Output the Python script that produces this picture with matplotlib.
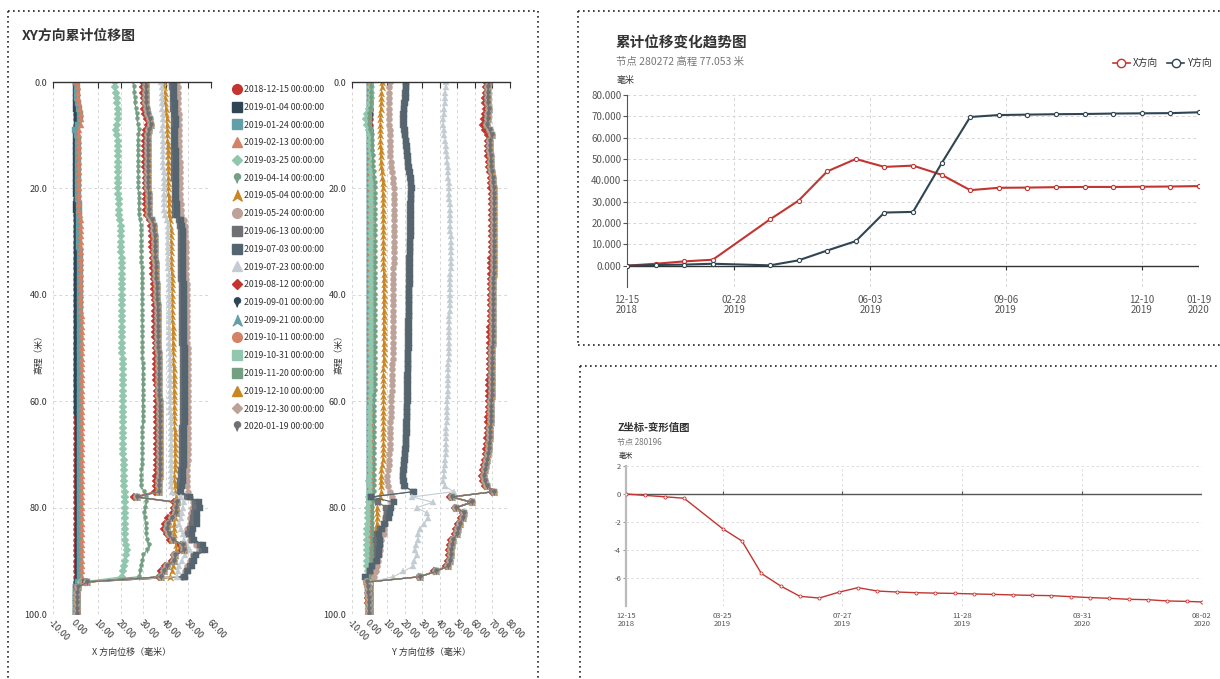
import numpy as np
import matplotlib
matplotlib.use("Agg")
import matplotlib.pyplot as plt
from matplotlib.lines import Line2D
from matplotlib.ticker import FormatStrFormatter
from datetime import datetime

plt.rcParams['font.family'] = ['Noto Sans CJK SC', 'DejaVu Sans']
plt.rcParams['axes.unicode_minus'] = False

# ---------------- inclinometer profiles (1 m nodes, 0-100 m) ----------------
depth = np.arange(0, 101)

survey_dates = [
    "2018-12-15", "2019-01-04", "2019-01-24", "2019-02-13", "2019-03-25",
    "2019-04-14", "2019-05-04", "2019-05-24", "2019-06-13", "2019-07-03",
    "2019-07-23", "2019-08-12", "2019-09-01", "2019-09-21", "2019-10-11",
    "2019-10-31", "2019-11-20", "2019-12-10", "2019-12-30", "2020-01-19",
]

# X direction cumulative displacement (mm)
x_1215 = [0.0] * 101
x_0104 = [
    0.1, 0.2, 0.2, 0.3, 0.3, 0.4, 0.6, 0.7, 0.5, 0.2,
    0.3, 0.3, 0.4, 0.3, 0.3, 0.4, 0.4, 0.3, 0.4, 0.4,
    0.4, 0.4, 0.5, 0.4, 0.4, 0.5, 0.7, 0.7, 0.7, 0.7,
    0.7, 0.7, 0.7, 0.8, 0.7, 0.7, 0.8, 0.8, 0.7, 0.8,
    0.8, 0.8, 0.8, 0.8, 0.8, 0.8, 0.8, 0.8, 0.8, 0.8,
    0.8, 0.8, 0.8, 0.8, 0.8, 0.8, 0.8, 0.8, 0.8, 0.8,
    0.8, 0.8, 0.8, 0.9, 0.9, 0.9, 0.9, 0.9, 0.9, 0.9,
    0.9, 0.9, 0.9, 0.9, 0.9, 0.9, 0.9, 0.9, 1.0, 0.9,
    0.9, 0.9, 0.9, 0.9, 0.9, 0.9, 0.9, 0.9, 0.9, 0.9,
    0.9, 0.9, 0.9, 0.9, 0.6, 0.2, 0.1, 0.1, 0.1, 0.0,
    0.0]
x_0124 = [
    0.3, 0.5, 0.6, 0.8, 1.0, 1.4, 1.9, 2.0, 1.2, -0.4,
    0.8, 1.0, 1.1, 1.1, 1.1, 1.0, 1.1, 1.1, 1.2, 1.2,
    1.2, 1.2, 1.2, 1.3, 1.3, 1.3, 1.6, 1.7, 1.7, 1.7,
    1.7, 1.7, 1.8, 1.8, 1.8, 1.8, 1.8, 1.8, 1.9, 1.9,
    1.9, 1.9, 1.9, 1.9, 1.9, 1.9, 1.9, 1.9, 1.9, 1.9,
    1.9, 1.9, 1.9, 1.9, 1.9, 1.9, 1.9, 2.0, 2.0, 2.0,
    2.0, 2.0, 2.0, 2.0, 2.0, 2.0, 2.0, 2.0, 2.0, 2.0,
    2.0, 2.0, 2.0, 2.0, 2.0, 2.0, 2.0, 2.0, 2.1, 2.0,
    2.0, 2.0, 2.0, 2.0, 2.0, 2.0, 2.0, 2.0, 2.0, 2.0,
    2.0, 2.0, 2.0, 2.0, 1.2, 0.4, 0.3, 0.3, 0.2, 0.2,
    0.1]
x_0213 = [
    0.6, 0.9, 1.0, 1.2, 1.5, 1.9, 2.4, 2.6, 2.2, 1.4,
    1.3, 1.4, 1.5, 1.5, 1.5, 1.5, 1.5, 1.6, 1.6, 1.6,
    1.6, 1.6, 1.7, 1.7, 1.7, 1.8, 2.3, 2.4, 2.4, 2.4,
    2.4, 2.5, 2.5, 2.5, 2.5, 2.5, 2.5, 2.6, 2.6, 2.6,
    2.6, 2.6, 2.6, 2.6, 2.7, 2.7, 2.7, 2.7, 2.7, 2.7,
    2.7, 2.7, 2.7, 2.7, 2.7, 2.8, 2.8, 2.8, 2.8, 2.8,
    2.8, 2.8, 2.8, 2.8, 2.8, 2.8, 2.8, 2.8, 2.8, 2.8,
    2.8, 2.8, 2.8, 2.8, 2.8, 2.8, 2.8, 2.8, 2.9, 2.8,
    2.8, 2.8, 2.8, 2.8, 2.8, 2.8, 2.8, 2.8, 2.8, 2.8,
    2.8, 2.8, 2.8, 2.9, 2.0, 0.8, 0.6, 0.5, 0.4, 0.3,
    0.3]
x_0325 = [
    17.3, 17.6, 17.9, 18.2, 18.4, 18.6, 18.8, 18.7, 18.3, 17.9,
    18.5, 18.7, 18.8, 18.8, 18.8, 18.9, 18.9, 18.9, 19.0, 19.0,
    19.0, 19.0, 19.1, 19.1, 19.2, 19.3, 19.8, 20.1, 20.2, 20.2,
    20.3, 20.3, 20.3, 20.4, 20.4, 20.4, 20.5, 20.5, 20.5, 20.5,
    20.6, 20.6, 20.6, 20.6, 20.6, 20.7, 20.7, 20.7, 20.7, 20.7,
    20.7, 20.7, 20.8, 20.8, 20.8, 20.8, 20.8, 20.9, 20.9, 20.9,
    20.9, 21.0, 21.0, 21.0, 21.0, 21.1, 21.1, 21.1, 21.1, 21.2,
    21.2, 21.3, 21.3, 21.4, 21.5, 21.5, 21.6, 21.7, 21.7, 21.8,
    21.8, 21.8, 21.9, 21.9, 22.0, 22.0, 22.1, 22.5, 22.7, 22.3,
    21.8, 21.4, 21.0, 20.6, 2.4, 0.6, 0.5, 0.4, 0.4, 0.3,
    0.3]
x_0414 = [
    25.6, 25.8, 26.0, 26.2, 26.4, 26.7, 27.0, 27.4, 27.7, 28.0,
    27.8, 27.6, 27.5, 27.5, 27.6, 27.6, 27.7, 27.7, 27.8, 27.8,
    27.8, 27.9, 27.9, 28.0, 28.0, 28.1, 28.6, 28.9, 29.0, 29.0,
    29.1, 29.1, 29.2, 29.2, 29.2, 29.3, 29.3, 29.3, 29.4, 29.4,
    29.4, 29.4, 29.5, 29.5, 29.5, 29.5, 29.6, 29.6, 29.6, 29.6,
    29.6, 29.6, 29.6, 29.7, 29.7, 29.7, 29.7, 29.7, 29.7, 29.7,
    29.7, 29.7, 29.7, 29.7, 29.7, 29.6, 29.6, 29.6, 29.6, 29.6,
    29.5, 29.4, 29.3, 29.1, 29.1, 29.0, 28.9, 30.5, 31.3, 31.0,
    30.6, 30.5, 30.7, 31.0, 31.2, 31.4, 31.8, 32.6, 31.5, 30.0,
    29.3, 28.8, 28.4, 28.1, 2.6, 0.7, 0.6, 0.5, 0.5, 0.4,
    0.4]
x_0504 = [
    39.0, 39.2, 39.4, 39.6, 39.7, 39.9, 40.1, 40.3, 40.5, 40.7,
    40.7, 40.7, 40.8, 40.8, 40.9, 40.9, 41.0, 41.0, 41.0, 41.1,
    41.1, 41.1, 41.2, 41.2, 41.3, 41.4, 41.8, 42.0, 42.1, 42.1,
    42.2, 42.2, 42.3, 42.3, 42.4, 42.4, 42.5, 42.5, 42.6, 42.6,
    42.7, 42.7, 42.8, 42.8, 42.9, 42.9, 43.0, 43.0, 43.1, 43.1,
    43.2, 43.2, 43.3, 43.3, 43.4, 43.4, 43.5, 43.5, 43.6, 43.6,
    43.7, 43.7, 43.7, 43.8, 43.8, 43.8, 43.9, 43.9, 43.9, 44.0,
    44.0, 44.0, 44.0, 43.9, 43.8, 43.7, 43.9, 44.2, 44.6, 45.0,
    44.8, 44.5, 44.0, 43.6, 43.5, 43.6, 43.8, 44.3, 44.6, 43.9,
    43.5, 43.0, 42.5, 41.8, 3.0, 0.8, 0.7, 0.6, 0.5, 0.5,
    0.4]
x_0524 = [
    45.0, 45.2, 45.3, 45.4, 45.5, 45.6, 45.8, 46.0, 45.9, 45.7,
    45.8, 45.9, 45.9, 46.0, 46.0, 46.1, 46.1, 46.2, 46.2, 46.3,
    46.3, 46.4, 46.4, 46.5, 46.5, 46.6, 48.0, 48.6, 48.7, 48.7,
    48.8, 48.8, 48.9, 48.9, 49.0, 49.0, 49.1, 49.1, 49.2, 49.2,
    49.3, 49.3, 49.3, 49.4, 49.4, 49.4, 49.5, 49.5, 49.5, 49.5,
    49.6, 49.6, 49.6, 49.6, 49.6, 49.6, 49.6, 49.6, 49.6, 49.6,
    49.6, 49.6, 49.6, 49.7, 49.7, 49.7, 49.7, 49.7, 49.7, 49.7,
    49.7, 49.6, 49.5, 49.4, 49.3, 49.2, 49.4, 50.0, 50.5, 52.0,
    51.5, 51.0, 50.8, 50.5, 49.5, 49.0, 50.5, 53.5, 54.8, 52.0,
    50.5, 49.5, 48.5, 47.0, 3.5, 0.8, 0.7, 0.6, 0.6, 0.5,
    0.5]
x_0613 = [
    42.8, 42.9, 43.0, 43.1, 43.2, 43.3, 43.5, 43.8, 43.6, 43.4,
    43.4, 43.5, 43.5, 43.6, 43.6, 43.7, 43.7, 43.8, 43.8, 43.9,
    43.9, 44.0, 44.0, 44.1, 44.1, 44.2, 45.8, 46.4, 46.5, 46.5,
    46.6, 46.6, 46.7, 46.7, 46.8, 46.8, 46.9, 46.9, 47.0, 47.0,
    47.1, 47.1, 47.1, 47.2, 47.2, 47.2, 47.3, 47.3, 47.3, 47.3,
    47.4, 47.4, 47.4, 47.4, 47.4, 47.4, 47.4, 47.4, 47.4, 47.4,
    47.4, 47.4, 47.4, 47.4, 47.4, 47.3, 47.3, 47.3, 47.3, 47.3,
    47.2, 47.1, 47.0, 46.8, 46.6, 46.4, 46.2, 46.3, 49.5, 53.0,
    53.0, 52.5, 52.0, 51.5, 50.5, 50.0, 51.5, 55.0, 56.0, 52.5,
    51.5, 50.5, 49.5, 48.0, 4.0, 0.9, 0.8, 0.7, 0.6, 0.6,
    0.5]
x_0703 = [
    43.5, 43.6, 43.7, 43.8, 43.9, 44.0, 44.2, 44.5, 44.3, 44.1,
    44.1, 44.2, 44.2, 44.3, 44.3, 44.4, 44.4, 44.5, 44.5, 44.6,
    44.6, 44.7, 44.7, 44.8, 44.8, 44.9, 46.5, 47.3, 47.4, 47.4,
    47.5, 47.5, 47.6, 47.6, 47.7, 47.7, 47.8, 47.8, 47.9, 47.9,
    48.0, 48.0, 48.0, 48.1, 48.1, 48.1, 48.2, 48.2, 48.2, 48.2,
    48.3, 48.3, 48.3, 48.3, 48.3, 48.3, 48.3, 48.3, 48.3, 48.3,
    48.3, 48.3, 48.3, 48.3, 48.3, 48.2, 48.2, 48.2, 48.2, 48.2,
    48.2, 48.1, 48.0, 47.8, 47.6, 47.4, 47.0, 46.9, 50.5, 54.5,
    55.0, 54.0, 54.0, 53.8, 52.0, 51.5, 52.5, 56.5, 57.5, 53.5,
    52.5, 51.5, 50.0, 48.5, 4.5, 1.0, 0.8, 0.7, 0.6, 0.6,
    0.5]
x_0723 = [
    38.0, 38.1, 38.2, 38.3, 38.4, 38.5, 38.7, 38.9, 38.7, 38.5,
    38.6, 38.7, 38.7, 38.8, 38.8, 38.9, 38.9, 39.0, 39.0, 39.1,
    39.1, 39.2, 39.2, 39.3, 39.3, 39.4, 40.4, 40.8, 40.9, 40.9,
    41.0, 41.0, 41.0, 41.1, 41.1, 41.1, 41.2, 41.2, 41.2, 41.3,
    41.3, 41.3, 41.4, 41.4, 41.4, 41.5, 41.5, 41.5, 41.6, 41.6,
    41.6, 41.7, 41.7, 41.7, 41.8, 41.8, 41.8, 41.9, 41.9, 41.9,
    42.0, 42.0, 42.0, 42.1, 42.1, 42.1, 42.2, 42.2, 42.2, 42.3,
    42.3, 42.3, 42.3, 42.2, 42.2, 42.1, 42.3, 42.6, 46.5, 48.0,
    47.5, 47.0, 46.5, 46.0, 46.5, 47.4, 48.0, 49.5, 50.5, 48.5,
    47.0, 46.0, 45.5, 45.0, 4.0, 0.9, 0.7, 0.6, 0.6, 0.5,
    0.5]
x_0812 = [
    29.8, 29.9, 30.0, 30.1, 30.2, 30.4, 30.8, 31.6, 32.2, 31.4,
    30.8, 30.7, 30.7, 30.8, 30.8, 30.9, 30.9, 31.0, 31.0, 31.1,
    31.1, 31.2, 31.2, 31.3, 31.3, 31.5, 32.8, 33.6, 33.7, 33.8,
    33.9, 34.0, 34.1, 34.2, 34.3, 34.4, 34.5, 34.6, 34.7, 34.8,
    34.9, 35.0, 35.1, 35.1, 35.2, 35.3, 35.3, 35.4, 35.4, 35.5,
    35.5, 35.6, 35.6, 35.7, 35.7, 35.8, 35.8, 35.9, 35.9, 35.9,
    36.0, 36.0, 36.0, 36.1, 36.1, 36.1, 36.1, 36.2, 36.2, 36.2,
    36.2, 36.2, 36.1, 36.0, 35.8, 35.6, 35.5, 35.4, 26.0, 43.5,
    43.5, 43.0, 41.0, 39.5, 39.0, 40.5, 42.0, 46.5, 47.0, 43.5,
    42.5, 39.5, 38.0, 37.0, 4.8, 0.8, 0.7, 0.6, 0.6, 0.5,
    0.5]
# 2019-09-01 .. 2020-01-19 sit on top of each other
x_late = [
    31.0, 31.1, 31.2, 31.3, 31.4, 31.6, 32.0, 32.8, 33.4, 32.6,
    32.0, 31.9, 31.9, 32.0, 32.0, 32.1, 32.1, 32.2, 32.2, 32.3,
    32.3, 32.4, 32.4, 32.5, 32.5, 32.7, 34.0, 34.8, 34.9, 35.0,
    35.1, 35.2, 35.3, 35.4, 35.5, 35.6, 35.7, 35.8, 35.9, 36.0,
    36.1, 36.2, 36.3, 36.3, 36.4, 36.5, 36.5, 36.6, 36.6, 36.7,
    36.7, 36.8, 36.8, 36.9, 36.9, 37.0, 37.0, 37.1, 37.1, 37.1,
    37.2, 37.2, 37.2, 37.3, 37.3, 37.3, 37.3, 37.4, 37.4, 37.4,
    37.4, 37.4, 37.3, 37.3, 37.2, 37.1, 37.0, 37.0, 27.0, 44.8,
    44.5, 44.3, 42.5, 40.8, 40.6, 41.5, 43.0, 47.5, 48.0, 44.2,
    43.5, 40.5, 39.0, 37.8, 5.2, 0.9, 0.8, 0.7, 0.6, 0.6,
    0.5]

# Y direction cumulative displacement (mm)
y_1215 = [0.0] * 101
y_0104 = [
    0.1, 0.1, 0.2, 0.2, 0.2, 0.1, 0.0, -0.2, -0.1, 0.1,
    0.2, 0.2, 0.2, 0.2, 0.2, 0.2, 0.2, 0.3, 0.3, 0.3,
    0.3, 0.3, 0.3, 0.3, 0.3, 0.3, 0.3, 0.3, 0.3, 0.3,
    0.3, 0.3, 0.3, 0.3, 0.3, 0.3, 0.3, 0.3, 0.3, 0.3,
    0.3, 0.3, 0.3, 0.3, 0.3, 0.3, 0.3, 0.3, 0.3, 0.3,
    0.3, 0.3, 0.3, 0.3, 0.3, 0.3, 0.3, 0.3, 0.3, 0.3,
    0.3, 0.3, 0.3, 0.3, 0.3, 0.3, 0.3, 0.3, 0.3, 0.3,
    0.3, 0.3, 0.3, 0.3, 0.3, 0.3, 0.3, 0.3, 0.2, 0.2,
    0.2, 0.2, 0.2, 0.2, 0.2, 0.2, 0.2, 0.2, 0.2, 0.2,
    0.2, 0.2, 0.2, 0.1, 0.0, 0.0, 0.0, 0.0, 0.0, 0.0,
    0.0]
y_0124 = [
    0.2, 0.3, 0.3, 0.4, 0.3, 0.1, -0.3, -0.5, -0.3, 0.1,
    0.4, 0.4, 0.4, 0.5, 0.5, 0.5, 0.5, 0.5, 0.5, 0.5,
    0.5, 0.5, 0.5, 0.5, 0.5, 0.5, 0.5, 0.5, 0.5, 0.5,
    0.5, 0.5, 0.5, 0.5, 0.5, 0.5, 0.5, 0.5, 0.5, 0.5,
    0.5, 0.5, 0.5, 0.5, 0.5, 0.5, 0.5, 0.5, 0.5, 0.5,
    0.5, 0.5, 0.5, 0.5, 0.5, 0.5, 0.5, 0.5, 0.5, 0.5,
    0.5, 0.5, 0.5, 0.5, 0.5, 0.5, 0.5, 0.5, 0.5, 0.5,
    0.5, 0.5, 0.5, 0.5, 0.5, 0.5, 0.5, 0.5, 0.3, 0.3,
    0.3, 0.3, 0.3, 0.3, 0.3, 0.3, 0.3, 0.3, 0.3, 0.3,
    0.3, 0.3, 0.2, 0.1, 0.0, 0.0, 0.0, 0.0, 0.0, 0.0,
    0.0]
y_0213 = [
    0.3, 0.4, 0.5, 0.5, 0.4, 0.2, -0.2, -0.5, -0.3, 0.2,
    0.6, 0.7, 0.7, 0.8, 0.8, 0.8, 0.8, 0.8, 0.8, 0.8,
    0.8, 0.8, 0.8, 0.8, 0.8, 0.8, 0.8, 0.8, 0.8, 0.8,
    0.8, 0.8, 0.8, 0.8, 0.8, 0.8, 0.8, 0.8, 0.8, 0.8,
    0.8, 0.8, 0.8, 0.8, 0.8, 0.9, 0.9, 0.9, 0.9, 0.9,
    0.9, 0.9, 0.9, 0.9, 0.9, 0.9, 0.9, 0.9, 0.9, 0.9,
    0.9, 0.9, 0.9, 0.9, 0.9, 0.9, 0.9, 0.9, 0.9, 0.9,
    0.9, 0.9, 0.9, 0.9, 0.9, 0.9, 0.9, 0.9, 0.5, 0.5,
    0.5, 0.5, 0.5, 0.5, 0.5, 0.5, 0.5, 0.5, 0.5, 0.5,
    0.5, 0.4, 0.3, 0.2, 0.0, 0.0, 0.0, 0.0, 0.0, 0.0,
    0.0]
y_0325 = [
    0.6, 0.7, 0.7, 0.6, 0.3, -0.4, -1.2, -1.8, -1.5, -0.5,
    0.2, 0.4, 0.5, 0.6, 0.7, 0.8, 0.9, 1.0, 1.0, 1.0,
    1.0, 1.0, 1.0, 1.0, 1.0, 0.9, 0.9, 0.9, 0.9, 0.9,
    0.9, 0.9, 0.9, 0.9, 0.8, 0.8, 0.8, 0.8, 0.8, 0.8,
    0.8, 0.8, 0.8, 0.7, 0.7, 0.7, 0.7, 0.7, 0.7, 0.7,
    0.7, 0.7, 0.6, 0.6, 0.6, 0.6, 0.6, 0.6, 0.6, 0.6,
    0.6, 0.5, 0.5, 0.5, 0.5, 0.5, 0.5, 0.5, 0.5, 0.5,
    0.4, 0.4, 0.3, 0.2, 0.0, -0.2, 0.0, 0.2, -0.5, -0.6,
    -0.8, -0.9, -1.0, -1.1, -1.2, -1.3, -1.4, -1.5, -1.5, -1.4,
    -1.3, -1.2, -1.0, -0.8, -0.3, -0.2, -0.2, -0.1, -0.1, -0.1,
    -0.1]
y_0414 = [
    0.9, 1.0, 1.1, 1.0, 0.8, 0.4, -0.1, -0.4, -0.2, 0.5,
    1.2, 1.4, 1.5, 1.6, 1.7, 1.8, 2.0, 2.4, 2.7, 2.9,
    3.0, 3.0, 3.1, 3.1, 3.1, 3.1, 3.1, 3.1, 3.1, 3.1,
    3.1, 3.1, 3.1, 3.0, 3.0, 3.0, 3.0, 3.0, 3.0, 3.0,
    3.0, 3.0, 3.0, 3.0, 3.0, 3.0, 2.9, 2.9, 2.9, 2.9,
    2.9, 2.9, 2.9, 2.9, 2.9, 2.9, 2.9, 2.9, 2.9, 2.8,
    2.8, 2.8, 2.8, 2.8, 2.8, 2.8, 2.8, 2.8, 2.8, 2.8,
    2.7, 2.6, 2.5, 2.4, 2.3, 2.3, 2.4, 2.5, 1.5, 1.8,
    1.6, 1.5, 1.4, 1.4, 1.3, 1.3, 1.2, 1.2, 1.1, 1.1,
    1.0, 1.0, 0.9, 0.8, 0.1, 0.0, 0.0, 0.0, 0.0, 0.0,
    0.0]
y_0504 = [
    7.0, 6.9, 6.8, 6.7, 6.5, 6.3, 6.1, 6.0, 6.0, 6.1,
    6.1, 6.2, 6.2, 6.3, 6.3, 6.4, 6.6, 7.0, 7.3, 7.4,
    7.5, 7.5, 7.6, 7.6, 7.6, 7.7, 7.7, 7.7, 7.8, 7.8,
    7.8, 7.8, 7.9, 7.9, 7.9, 7.9, 8.0, 8.0, 8.0, 8.0,
    8.0, 8.0, 8.0, 8.0, 8.0, 8.0, 8.0, 8.0, 8.0, 8.0,
    8.0, 8.0, 8.0, 8.0, 7.9, 7.9, 7.9, 7.9, 7.9, 7.9,
    7.9, 7.9, 7.8, 7.8, 7.8, 7.8, 7.8, 7.8, 7.8, 7.8,
    7.7, 7.5, 7.2, 6.8, 6.5, 6.3, 6.4, 6.8, 6.0, 4.5,
    4.2, 4.0, 4.5, 4.0, 3.6, 3.5, 3.4, 3.5, 3.8, 3.5,
    3.2, 3.0, 2.6, 2.0, 0.2, 0.0, 0.0, 0.0, 0.0, 0.0,
    0.0]
y_0524 = [
    11.4, 11.3, 11.2, 11.1, 11.0, 11.0, 10.9, 11.0, 11.2, 11.4,
    11.5, 11.6, 11.7, 11.8, 11.9, 12.0, 12.4, 12.9, 13.3, 13.6,
    13.7, 13.8, 13.8, 13.8, 13.8, 13.8, 13.8, 13.8, 13.7, 13.7,
    13.7, 13.7, 13.7, 13.7, 13.7, 13.6, 13.6, 13.6, 13.6, 13.6,
    13.6, 13.6, 13.5, 13.5, 13.5, 13.5, 13.5, 13.4, 13.4, 13.4,
    13.3, 13.2, 13.1, 13.0, 12.9, 12.8, 12.7, 12.6, 12.5, 12.4,
    12.3, 12.2, 12.1, 12.0, 11.9, 11.8, 11.7, 11.6, 11.5, 11.4,
    11.2, 11.0, 10.8, 10.5, 10.2, 10.0, 10.5, 11.5, 12.5, 12.0,
    11.0, 9.5, 9.0, 8.8, 8.5, 8.0, 6.5, 6.0, 5.8, 5.5,
    5.0, 4.5, 3.5, 2.5, 0.3, 0.1, 0.1, 0.0, 0.0, 0.0,
    0.0]
y_0613 = [
    20.6, 20.5, 20.4, 20.2, 19.9, 19.5, 19.2, 19.1, 19.3, 19.7,
    20.1, 20.5, 20.9, 21.2, 21.5, 21.7, 22.1, 22.7, 23.2, 23.5,
    23.6, 23.5, 23.4, 23.3, 23.2, 23.2, 23.3, 23.3, 23.2, 23.1,
    23.0, 22.9, 22.8, 22.7, 22.7, 22.6, 22.6, 22.5, 22.5, 22.4,
    22.4, 22.3, 22.3, 22.2, 22.2, 22.1, 22.1, 22.0, 22.0, 21.9,
    21.9, 21.8, 21.8, 21.7, 21.7, 21.6, 21.6, 21.5, 21.5, 21.4,
    21.4, 21.3, 21.2, 21.1, 21.0, 20.9, 20.8, 20.7, 20.5, 20.3,
    20.1, 19.9, 19.5, 19.2, 19.0, 19.1, 19.7, 24.9, 1.0, 5.0,
    9.5, 9.8, 9.5, 8.0, 6.0, 4.0, 3.5, 4.0, 4.5, 4.0,
    3.5, 1.5, 0.5, -2.0, -1.5, -0.6, -0.5, -0.5, -0.4, -0.4,
    -0.4]
y_0703 = [
    20.9, 20.8, 20.7, 20.5, 20.2, 19.8, 19.5, 19.4, 19.6, 20.0,
    20.4, 20.8, 21.2, 21.5, 21.8, 22.0, 22.4, 23.0, 23.5, 23.8,
    23.9, 23.8, 23.7, 23.6, 23.5, 23.5, 23.6, 23.6, 23.5, 23.4,
    23.3, 23.2, 23.1, 23.0, 23.0, 22.9, 22.9, 22.8, 22.8, 22.7,
    22.7, 22.6, 22.6, 22.5, 22.5, 22.4, 22.4, 22.3, 22.3, 22.2,
    22.2, 22.1, 22.1, 22.0, 22.0, 21.9, 21.9, 21.8, 21.8, 21.7,
    21.7, 21.6, 21.5, 21.4, 21.3, 21.2, 21.1, 21.0, 20.8, 20.6,
    20.4, 20.2, 19.8, 19.5, 19.3, 19.4, 20.0, 25.2, 1.0, 13.7,
    12.0, 11.5, 11.0, 9.0, 7.0, 5.5, 6.0, 6.0, 5.5, 5.5,
    4.5, 1.3, 0.5, -2.5, -1.5, -0.6, -0.5, -0.5, -0.4, -0.4,
    -0.4]
y_0723 = [
    43.5, 43.3, 43.1, 42.9, 42.7, 42.5, 42.3, 42.1, 42.0, 42.2,
    42.6, 43.0, 43.3, 43.6, 43.9, 44.2, 44.4, 44.6, 44.8, 45.0,
    45.2, 45.4, 45.5, 45.6, 45.7, 45.8, 45.9, 46.0, 46.1, 46.2,
    46.2, 46.3, 46.3, 46.3, 46.2, 46.2, 46.1, 46.0, 45.9, 45.8,
    45.7, 45.7, 45.6, 45.6, 45.5, 45.5, 45.4, 45.4, 45.3, 45.3,
    45.2, 45.1, 45.0, 44.9, 44.9, 44.8, 44.7, 44.6, 44.5, 44.4,
    44.3, 44.2, 44.1, 44.0, 43.9, 43.8, 43.8, 43.7, 43.6, 43.5,
    43.4, 43.2, 43.0, 42.6, 42.2, 42.0, 43.0, 48.0, 24.3, 36.2,
    26.8, 32.5, 33.4, 31.0, 28.5, 27.8, 27.5, 26.5, 26.0, 26.8,
    25.5, 24.9, 19.2, 13.6, 0.0, -0.5, -0.5, -0.4, -0.4, -0.4,
    -0.4]
y_0812 = [
    66.5, 66.3, 66.1, 65.9, 66.0, 66.2, 66.0, 65.4, 64.5, 65.8,
    67.5, 67.3, 67.2, 67.4, 67.6, 67.8, 68.0, 68.4, 68.9, 69.2,
    69.4, 69.5, 69.6, 69.6, 69.6, 69.6, 69.7, 69.7, 69.6, 69.6,
    69.6, 69.5, 69.5, 69.4, 69.4, 69.3, 69.3, 69.2, 69.2, 69.1,
    69.1, 69.1, 69.0, 69.0, 68.9, 68.9, 68.8, 68.8, 68.7, 68.7,
    68.6, 68.6, 68.5, 68.5, 68.4, 68.4, 68.3, 68.3, 68.2, 68.1,
    68.0, 67.9, 67.8, 67.7, 67.6, 67.4, 67.2, 67.0, 66.8, 66.6,
    66.2, 65.6, 65.0, 64.4, 63.8, 64.8, 65.8, 69.7, 45.8, 57.5,
    48.5, 53.0, 52.0, 50.5, 49.5, 48.8, 46.5, 46.0, 45.5, 45.2,
    44.8, 43.8, 36.8, 28.0, -1.6, -0.9, -0.8, -0.7, -0.7, -0.6,
    -0.6]
y_late = [
    67.8, 67.6, 67.4, 67.2, 67.5, 67.8, 67.6, 67.2, 66.8, 68.5,
    69.5, 68.8, 68.5, 68.7, 68.9, 69.1, 69.3, 69.8, 70.3, 70.6,
    70.8, 70.9, 71.0, 71.0, 71.0, 71.0, 71.1, 71.1, 71.0, 71.0,
    71.0, 70.9, 70.9, 70.8, 70.8, 70.7, 70.7, 70.6, 70.6, 70.5,
    70.5, 70.5, 70.4, 70.4, 70.3, 70.3, 70.2, 70.2, 70.1, 70.1,
    70.0, 70.0, 69.9, 69.9, 69.8, 69.8, 69.7, 69.7, 69.6, 69.5,
    69.4, 69.3, 69.2, 69.1, 69.0, 68.8, 68.6, 68.4, 68.2, 68.0,
    67.6, 67.0, 66.4, 65.8, 65.0, 66.0, 67.0, 71.0, 46.9, 58.5,
    49.5, 54.0, 53.0, 51.5, 50.5, 49.8, 47.5, 47.0, 46.5, 46.2,
    45.8, 44.8, 37.8, 28.7, -1.5, -0.8, -0.7, -0.6, -0.6, -0.5,
    -0.5]

x_profiles = [x_1215, x_0104, x_0124, x_0213, x_0325, x_0414, x_0504, x_0524,
              x_0613, x_0703, x_0723, x_0812] + [x_late] * 8
y_profiles = [y_1215, y_0104, y_0124, y_0213, y_0325, y_0414, y_0504, y_0524,
              y_0613, y_0703, y_0723, y_0812] + [y_late] * 8

# ---------------- node 280272 trend (mm) ----------------
trend_x = [0.0, 0.9, 2.0, 2.8, 21.7, 30.5, 44.2, 50.0, 46.3, 46.9,
           42.6, 35.4, 36.5, 36.6, 36.8, 36.9, 36.9, 37.0, 37.1, 37.3]
trend_y = [0.0, 0.3, 0.5, 0.9, 0.15, 2.5, 7.1, 11.5, 24.9, 25.2,
           48.0, 69.7, 70.6, 70.8, 71.0, 71.1, 71.3, 71.4, 71.5, 71.9]
trend_ticks = ["2018-12-15", "2019-02-28", "2019-06-03", "2019-09-06",
               "2019-12-10", "2020-01-19"]

# ---------------- node 280196 settlement (mm) ----------------
z_dates = [
    "2018-12-15", "2019-01-04", "2019-01-24", "2019-02-13", "2019-03-25",
    "2019-04-14", "2019-05-04", "2019-05-24", "2019-06-13", "2019-07-03",
    "2019-07-23", "2019-08-12", "2019-09-01", "2019-09-21", "2019-10-11",
    "2019-10-31", "2019-11-20", "2019-12-10", "2019-12-30", "2020-01-19",
    "2020-02-08", "2020-02-28", "2020-03-19", "2020-04-08", "2020-04-28",
    "2020-05-18", "2020-06-07", "2020-06-27", "2020-07-17", "2020-08-02",
]
z_values = [0.0, -0.1, -0.2, -0.3, -2.48, -3.36, -5.67, -6.57, -7.31, -7.43,
            -7.02, -6.69, -6.93, -7.0, -7.05, -7.08, -7.1, -7.14, -7.17, -7.21,
            -7.24, -7.26, -7.33, -7.4, -7.45, -7.52, -7.55, -7.64, -7.67, -7.71]
z_ticks = ["2018-12-15", "2019-03-25", "2019-07-27", "2019-11-28",
           "2020-03-31", "2020-08-02"]

# ---------------- styling ----------------
PALETTE = ['#c23531', '#2f4554', '#61a0a8', '#d48265', '#91c7ae', '#749f83',
           '#ca8622', '#bda29a', '#6e7074', '#546570', '#c4ccd3']
PIN = [(0.62 * np.cos(a), 0.35 + 0.62 * np.sin(a))
       for a in np.deg2rad(np.linspace(-55, 235, 25))] + [(0.0, -1.0)]
ARROW = [(0.0, 1.0), (0.85, -1.0), (0.0, -0.45), (-0.85, -1.0)]
SYMBOLS = ['o', 's', 's', '^', 'D', PIN, ARROW]
SYMBOL_SIZE = [4.3, 4.6, 4.6, 5.0, 3.6, 4.6, 5.2]
LEGEND_SIZE = [7.0, 7.0, 7.0, 7.5, 5.5, 7.0, 8.0]

W, H = 1220, 679
fig = plt.figure(figsize=(W / 100, H / 100), dpi=100)


def px_box(x0, y0, x1, y1):
    return [x0 / W, 1 - y1 / H, (x1 - x0) / W, (y1 - y0) / H]


def fig_text(x, y, s, **kw):
    fig.text(x / W, 1 - y / H, s, **kw)


def dotted(x0, y0, x1, y1):
    fig.add_artist(Line2D([x0 / W, x1 / W], [1 - y0 / H, 1 - y1 / H],
                          transform=fig.transFigure, color='#222', lw=1.2,
                          linestyle=(0, (1, 2))))


def to_dt(values):
    return [datetime.strptime(v, "%Y-%m-%d") for v in values]


def draw_profile(ax, profiles, xmax):
    for i, vals in enumerate(profiles):
        color = PALETTE[i % len(PALETTE)]
        sym = SYMBOLS[i % len(SYMBOLS)]
        ax.plot(vals, depth, color=color, lw=0.8, marker=sym,
                ms=SYMBOL_SIZE[i % len(SYMBOLS)], mfc=color, mec=color, mew=0.3)
    ax.set_xlim(-10, xmax)
    ax.set_ylim(100, 0)
    ax.set_xticks(np.arange(-10, xmax + 1, 10))
    ax.set_yticks([0, 20, 40, 60, 80, 100])
    ax.xaxis.set_major_formatter(FormatStrFormatter('%.2f'))
    ax.yaxis.set_major_formatter(FormatStrFormatter('%.1f'))
    ax.grid(True, ls=(0, (3, 3)), color='#d6d6d6', lw=0.7)
    ax.set_axisbelow(True)
    for side in ['left', 'right', 'bottom']:
        ax.spines[side].set_visible(False)
    ax.spines['top'].set_color('#333333')
    ax.spines['top'].set_linewidth(1.0)
    ax.tick_params(axis='x', top=True, bottom=False, labelbottom=True,
                   direction='in', length=4, color='#333333', pad=3,
                   labelsize=6.5, labelcolor='#333333')
    ax.tick_params(axis='y', length=0, pad=4, labelsize=6.5, labelcolor='#333333')
    for lbl in ax.get_xticklabels():
        lbl.set_rotation(-45)
        lbl.set_ha('left')
        lbl.set_va('top')
        lbl.set_rotation_mode('anchor')


def zero_line(ax, ticks, length, color):
    # x axis drawn through y = 0, with its tick marks
    ax.axhline(0, color=color, lw=1.0, zorder=2)
    ax.vlines(ticks[1:], 0, -length, color=color, lw=0.8, zorder=2)


# ---------------- left panel: XY profiles ----------------
fig_text(22, 36, 'XY方向累计位移图', fontsize=10, fontweight='bold',
         color='#333333', va='center')

ax_x = fig.add_axes(px_box(53, 82, 211, 614))
draw_profile(ax_x, x_profiles, 60)
ax_y = fig.add_axes(px_box(352, 82, 510, 614))
draw_profile(ax_y, y_profiles, 80)

for xc in (39, 339):
    fig_text(xc, 352, '高程（米）', rotation=90, fontsize=6.3, color='#333333',
             ha='center', va='center')
fig_text(132, 652, 'X 方向位移（毫米）', fontsize=6.5, color='#333333',
         ha='center', va='center')
fig_text(431, 652, 'Y 方向位移（毫米）', fontsize=6.5, color='#333333',
         ha='center', va='center')

handles = []
for i, d in enumerate(survey_dates):
    color = PALETTE[i % len(PALETTE)]
    handles.append(Line2D([], [], ls='none', marker=SYMBOLS[i % 7],
                          ms=LEGEND_SIZE[i % 7], mfc=color, mec=color))
labels = [d + ' 00:00:00' for d in survey_dates]
fig.legend(handles, labels, loc='upper left',
           bbox_to_anchor=(233 / W, 1 - 85 / H), frameon=False, fontsize=6.3,
           labelspacing=1.0, handlelength=1.0, handletextpad=0.3,
           borderpad=0, borderaxespad=0, labelcolor='#333333')

# ---------------- top right: trend at node 280272 ----------------
fig_text(616, 43, '累计位移变化趋势图', fontsize=10.5, fontweight='bold',
         color='#333333', va='center')
fig_text(616, 62, '节点 280272 高程 77.053 米', fontsize=7.5, color='#777777',
         va='center')
fig_text(616, 80, '毫米', fontsize=6.5, color='#333333', va='center')

ax_t = fig.add_axes(px_box(627, 95, 1199, 287))
t_dates = to_dt(survey_dates)
ax_t.plot(t_dates, trend_x, color='#c23531', lw=1.5, marker='o', ms=3,
          mfc='white', mec='#c23531', mew=0.8, label='X方向', zorder=3)
ax_t.plot(t_dates, trend_y, color='#2f4554', lw=1.5, marker='o', ms=3,
          mfc='white', mec='#2f4554', mew=0.8, label='Y方向', zorder=3)
ax_t.set_ylim(-10, 80)
ax_t.set_xlim(to_dt(trend_ticks)[0], to_dt(trend_ticks)[-1])
ax_t.set_yticks(np.arange(0, 81, 10))
ax_t.yaxis.set_major_formatter(FormatStrFormatter('%.3f'))
ax_t.set_xticks(to_dt(trend_ticks))
ax_t.set_xticklabels([d[5:] + '\n' + d[:4] for d in trend_ticks])
ax_t.grid(True, ls=(0, (3, 3)), color='#d6d6d6', lw=0.7)
ax_t.set_axisbelow(True)
for side in ['top', 'right', 'bottom']:
    ax_t.spines[side].set_visible(False)
ax_t.spines['left'].set_color('#555555')
ax_t.tick_params(axis='y', length=3, color='#555555', pad=1, labelsize=7,
                 labelcolor='#555555')
ax_t.tick_params(axis='x', length=0, pad=6, labelsize=7, labelcolor='#555555')
for lbl in ax_t.get_xticklabels():
    lbl.set_linespacing(1.0)
zero_line(ax_t, to_dt(trend_ticks), 2.0, '#333333')

leg_handles = [Line2D([], [], color='#c23531', lw=1.2, marker='o', ms=6,
                      mfc='white', mec='#c23531', mew=1.0),
               Line2D([], [], color='#2f4554', lw=1.2, marker='o', ms=6,
                      mfc='white', mec='#2f4554', mew=1.0)]
fig.legend(leg_handles, ['X方向', 'Y方向'], loc='center right',
           bbox_to_anchor=(1212 / W, 1 - 63 / H), ncol=2, frameon=False,
           fontsize=7, handlelength=1.8, handletextpad=0.3, columnspacing=0.9,
           borderpad=0, borderaxespad=0, labelcolor='#333333')

# ---------------- bottom right: Z settlement at node 280196 ----------------
fig_text(617, 428, 'Z坐标-变形值图', fontsize=7.5, fontweight='bold',
         color='#333333', va='center')
fig_text(617, 442, '节点 280196', fontsize=5.8, color='#777777', va='center')
fig_text(619, 456, '毫米', fontsize=5.2, color='#333333', va='center')

ax_z = fig.add_axes(px_box(626, 466, 1202, 606))
ax_z.plot(to_dt(z_dates), z_values, color='#c23531', lw=1.0, marker='o', ms=2.2,
          mfc='white', mec='#c23531', mew=0.6, zorder=3)
ax_z.set_ylim(-8, 2)
ax_z.set_xlim(to_dt(z_ticks)[0], to_dt(z_ticks)[-1])
ax_z.set_yticks([2, 0, -2, -4, -6])
ax_z.set_xticks(to_dt(z_ticks))
ax_z.set_xticklabels([d[5:] + '\n' + d[:4] for d in z_ticks])
ax_z.grid(True, ls=(0, (3, 3)), color='#d9d9d9', lw=0.6)
ax_z.set_axisbelow(True)
for side in ['top', 'right', 'bottom']:
    ax_z.spines[side].set_visible(False)
ax_z.spines['left'].set_color('#bbbbbb')
ax_z.spines['left'].set_linewidth(1.6)
ax_z.tick_params(axis='y', length=2.5, color='#999999', pad=1, labelsize=5.5,
                 labelcolor='#555555')
ax_z.tick_params(axis='x', length=0, pad=4, labelsize=5.5, labelcolor='#555555')
for lbl in ax_z.get_xticklabels():
    lbl.set_linespacing(1.0)
zero_line(ax_z, to_dt(z_ticks), -0.25, '#555555')

# ---------------- dotted panel frames ----------------
dotted(8, 11, 538, 11)
dotted(8, 11, 8, 679)
dotted(538, 11, 538, 679)
dotted(578, 11, 1220, 11)
dotted(578, 11, 578, 345)
dotted(578, 345, 1220, 345)
dotted(580, 366, 1220, 366)
dotted(580, 366, 580, 679)

fig.savefig('out.png', dpi=100, facecolor='white')
